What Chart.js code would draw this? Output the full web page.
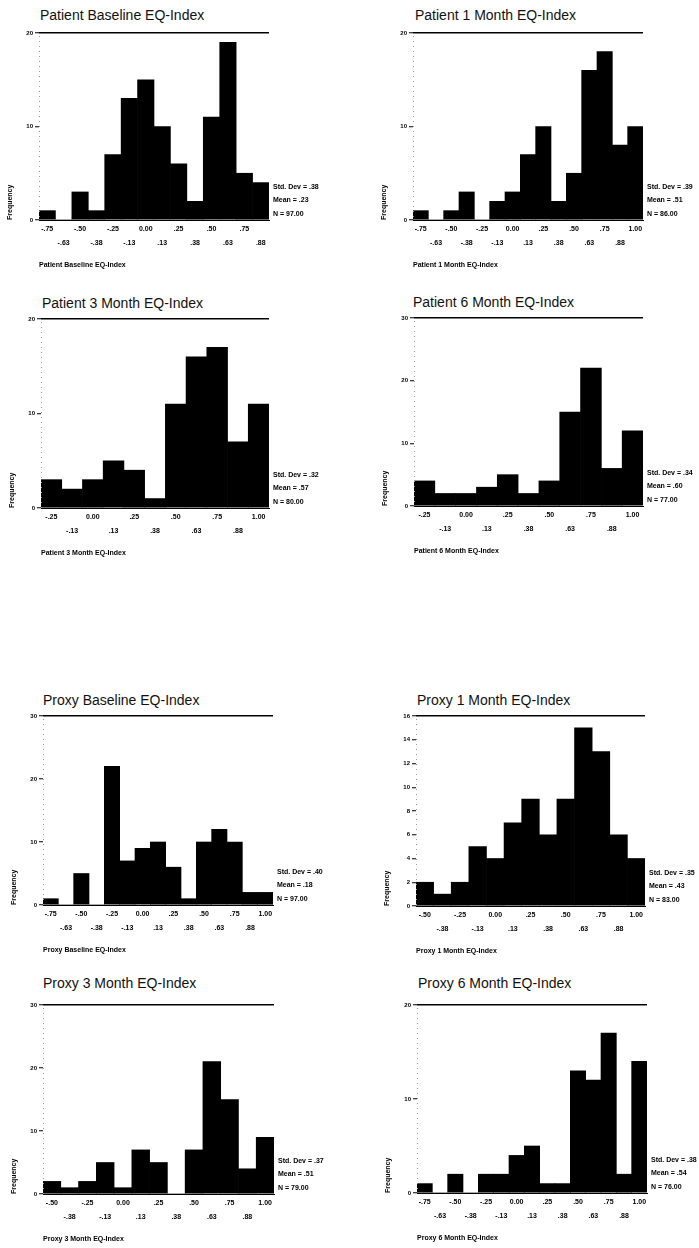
<!DOCTYPE html>
<html>
<head>
<meta charset="utf-8">
<script src="https://cdn.jsdelivr.net/npm/chart.js@4.4.1/dist/chart.umd.min.js"></script>
<style>
html, body { margin: 0; padding: 0; background: #fff; overflow: hidden; }
body { width: 699px; height: 1248px; position: relative; }
.ttl { position: absolute; font: 14px "Liberation Sans", Arial, sans-serif; color: #111; white-space: nowrap; line-height: 16px; }
canvas { position: absolute; }
</style>
</head>
<body>
<script>
// bin midpoints (EQ-5D index), as printed under the bars
const binsA = ['-.75', '-.63', '-.50', '-.38', '-.25', '-.13', '0.00', '.13', '.25', '.38', '.50', '.63', '.75', '.88'];
const binsB = ['-.75', '-.63', '-.50', '-.38', '-.25', '-.13', '0.00', '.13', '.25', '.38', '.50', '.63', '.75', '.88', '1.00'];
const binsC = ['-.25', '-.13', '0.00', '.13', '.25', '.38', '.50', '.63', '.75', '.88', '1.00'];
const binsD = ['-.50', '-.38', '-.25', '-.13', '0.00', '.13', '.25', '.38', '.50', '.63', '.75', '.88', '1.00'];

// frequencies
const patientBaseline = [1, 0, 3, 1, 7, 13, 15, 10, 6, 2, 11, 19, 5, 4];
const patient1Month = [1, 0, 1, 3, 0, 2, 3, 7, 10, 2, 5, 16, 18, 8, 10];
const patient3Month = [3, 2, 3, 5, 4, 1, 11, 16, 17, 7, 11];
const patient6Month = [4, 2, 2, 3, 5, 2, 4, 15, 22, 6, 12];
const proxyBaseline = [1, 0, 5, 0, 22, 7, 9, 10, 6, 1, 10, 12, 10, 2, 2];
const proxy1Month = [2, 1, 2, 5, 4, 7, 9, 6, 9, 15, 13, 6, 4];
const proxy3Month = [2, 1, 2, 5, 1, 7, 5, 0, 7, 21, 15, 4, 9];
const proxy6Month = [1, 0, 2, 0, 2, 2, 4, 5, 1, 1, 13, 12, 17, 2, 14];

// summary text printed beside each histogram
const statsPatientBaseline = ['Std. Dev = .38', 'Mean = .23', 'N = 97.00'];
const statsPatient1Month = ['Std. Dev = .39', 'Mean = .51', 'N = 86.00'];
const statsPatient3Month = ['Std. Dev = .32', 'Mean = .57', 'N = 80.00'];
const statsPatient6Month = ['Std. Dev = .34', 'Mean = .60', 'N = 77.00'];
const statsProxyBaseline = ['Std. Dev = .40', 'Mean = .18', 'N = 97.00'];
const statsProxy1Month = ['Std. Dev = .35', 'Mean = .43', 'N = 83.00'];
const statsProxy3Month = ['Std. Dev = .37', 'Mean = .51', 'N = 79.00'];
const statsProxy6Month = ['Std. Dev = .38', 'Mean = .54', 'N = 76.00'];

const yMax = [20, 20, 20, 30, 30, 16, 30, 20];
const yStep = [10, 10, 10, 10, 10, 2, 10, 10];

const names = ['Patient Baseline EQ-Index', 'Patient 1 Month EQ-Index', 'Patient 3 Month EQ-Index', 'Patient 6 Month EQ-Index',
  'Proxy Baseline EQ-Index', 'Proxy 1 Month EQ-Index', 'Proxy 3 Month EQ-Index', 'Proxy 6 Month EQ-Index'];
const bins = [binsA, binsB, binsC, binsC, binsB, binsD, binsD, binsB];
const counts = [patientBaseline, patient1Month, patient3Month, patient6Month, proxyBaseline, proxy1Month, proxy3Month, proxy6Month];
const stats = [statsPatientBaseline, statsPatient1Month, statsPatient3Month, statsPatient6Month,
  statsProxyBaseline, statsProxy1Month, statsProxy3Month, statsProxy6Month];

// layout: plot area [left, top, right, bottom] and title position
const boxes = [[39, 33, 269, 220], [413, 33, 643, 220], [41, 319, 269, 508], [414, 318, 643, 506],
  [43, 716, 273, 905], [416, 716, 645, 906], [43, 1005, 274, 1194], [417, 1005, 647, 1193]];
const titlePos = [[40, 15], [415, 15], [42, 303], [413, 302], [43, 700], [417, 700], [43, 983], [418, 983]];

Chart.defaults.font.family = '"Liberation Sans", Arial, sans-serif';
Chart.defaults.color = '#000';

// stats block to the right of the plot, plus the faint dotted left frame line
const statsText = {
  id: 'statsText',
  afterDraw(chart, args, opts) {
    const { ctx, chartArea } = chart;
    ctx.save();
    ctx.strokeStyle = '#999';
    ctx.lineWidth = 1;
    ctx.setLineDash([1, 4]);
    ctx.beginPath();
    ctx.moveTo(chartArea.left + 0.5, chartArea.top + 3);
    ctx.lineTo(chartArea.left + 0.5, chartArea.bottom);
    ctx.stroke();
    ctx.setLineDash([]);
    ctx.font = 'bold 7px "Liberation Sans", Arial, sans-serif';
    ctx.fillStyle = '#000';
    ctx.textBaseline = 'middle';
    opts.lines.forEach((t, i) => ctx.fillText(t, chartArea.right + 4, chartArea.bottom - 33 + i * 13.5));
    ctx.restore();
  }
};

const axW = 40, padT = 6, axH = 56, padR = 62;

for (let i = 0; i < 8; i++) {
  const [l, t, r, b] = boxes[i];
  const tt = document.createElement('div');
  tt.className = 'ttl';
  tt.style.left = titlePos[i][0] + 'px';
  tt.style.top = (titlePos[i][1] - 8) + 'px';
  tt.textContent = names[i];
  document.body.appendChild(tt);

  const cv = document.createElement('canvas');
  cv.width = (r - l) + axW + padR;
  cv.height = (b - t) + padT + axH;
  cv.style.left = (l - axW) + 'px';
  cv.style.top = (t - padT) + 'px';
  document.body.appendChild(cv);

  const max = yMax[i];
  new Chart(cv, {
    type: 'bar',
    data: {
      labels: bins[i],
      datasets: [{
        data: counts[i],
        backgroundColor: '#000',
        borderWidth: 0,
        barPercentage: 1,
        categoryPercentage: 1
      }]
    },
    options: {
      responsive: false,
      animation: false,
      devicePixelRatio: 1,
      layout: { padding: { left: 0, top: padT, right: padR, bottom: 0 } },
      plugins: {
        legend: { display: false },
        tooltip: { enabled: false },
        statsText: { lines: stats[i] }
      },
      scales: {
        x: {
          afterFit: s => { s.height = axH; },
          grid: { display: false, drawTicks: false },
          border: { display: true, color: '#000', width: 1 },
          ticks: {
            autoSkip: false, maxRotation: 0, minRotation: 0, padding: 2,
            font: { size: 7, weight: 'bold', lineHeight: 2 },
            callback: function (v, idx) {
              const s = this.getLabelForValue(v);
              return idx % 2 === 0 ? [s, ''] : ['', s];
            }
          },
          title: {
            display: true, text: names[i], align: 'start',
            font: { size: 7, weight: 'bold' }, padding: { top: 0, bottom: 7 }
          }
        },
        y: {
          min: 0, max: max,
          afterFit: s => { s.width = axW; },
          ticks: { stepSize: yStep[i], padding: 2, font: { size: 6, weight: 'bold' } },
          grid: {
            drawOnChartArea: true,
            color: c => (c.tick && c.tick.value === max) ? '#000' : 'rgba(0,0,0,0)',
            lineWidth: 1.5,
            tickColor: '#000',
            tickLength: 4,
            tickWidth: 1
          },
          border: { display: false },
          title: {
            display: true, text: 'Frequency', align: 'start',
            font: { size: 7, weight: 'bold' }, padding: { top: 7, bottom: 0 }
          }
        }
      }
    },
    plugins: [statsText]
  });
}
</script>
</body>
</html>
